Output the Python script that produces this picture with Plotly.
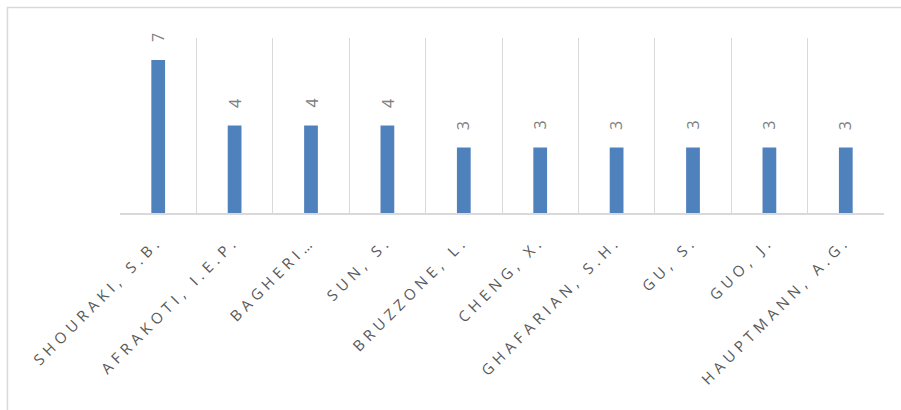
import plotly.graph_objects as go

# Authors and their document counts
authors = [
    "SHOURAKI, S.B.",
    "AFRAKOTI, I.E.P.",
    "BAGHERI…",
    "SUN, S.",
    "BRUZZONE, L.",
    "CHENG, X.",
    "GHAFARIAN, S.H.",
    "GU, S.",
    "GUO, J.",
    "HAUPTMANN, A.G.",
]
documents = [7, 4, 4, 4, 3, 3, 3, 3, 3, 3]

BAR_COLOR = "#4F81BD"
GRID_COLOR = "#D9D9D9"
LABEL_COLOR = "#595959"
VALUE_COLOR = "#808080"
FONT = "Open Sans"

# widely tracked category labels
tick_text = [
    '<span style="letter-spacing:4.8px">' + a + "</span>" for a in authors
]

fig = go.Figure(
    go.Bar(
        x=authors,
        y=documents,
        marker=dict(color=BAR_COLOR, line=dict(width=0)),
        hoverinfo="skip",
    )
)

# value labels, rotated, above each bar
for a, v in zip(authors, documents):
    fig.add_annotation(
        x=a,
        y=v,
        text=str(v),
        textangle=-90,
        showarrow=False,
        xanchor="center",
        yanchor="middle",
        yshift=22,
        font=dict(family=FONT, size=16, color=VALUE_COLOR),
    )

# outer chart frame
fig.add_shape(
    type="rect",
    xref="paper",
    yref="paper",
    x0=-0.1473,
    x1=1.05,
    y0=-1.2,
    y1=1.1743,
    line=dict(color=GRID_COLOR, width=1.5),
    layer="below",
)

fig.update_layout(
    width=901,
    height=410,
    margin=dict(l=120, r=17, t=38, b=197),
    paper_bgcolor="white",
    plot_bgcolor="white",
    bargap=0.82,
    showlegend=False,
    font=dict(family=FONT, color=LABEL_COLOR),
    xaxis=dict(
        type="category",
        tickmode="array",
        tickvals=authors,
        ticktext=tick_text,
        tickangle=-45,
        tickson="boundaries",
        ticks="",
        ticklabelstandoff=12,
        showgrid=True,
        gridcolor=GRID_COLOR,
        gridwidth=1,
        showline=True,
        linecolor=GRID_COLOR,
        linewidth=1.5,
        tickfont=dict(family=FONT, size=15, color=LABEL_COLOR),
        fixedrange=True,
    ),
    yaxis=dict(
        range=[0, 8],
        showgrid=False,
        zeroline=False,
        showticklabels=False,
        showline=False,
        fixedrange=True,
    ),
)

fig.write_html("out.html", config={"displayModeBar": False})
